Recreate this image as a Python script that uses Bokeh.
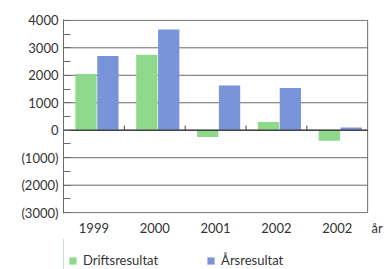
from bokeh.plotting import figure
from bokeh.layouts import column
from bokeh.models import (ColumnDataSource, FixedTicker, SingleIntervalTicker, Range1d,
                          Legend, LegendItem)
from bokeh.transform import dodge
from bokeh.embed import file_html
from bokeh.resources import INLINE

# ---- data ----
years = ["1999", "2000", "2001", "2002", "2002"]
driftsresultat = [2050, 2750, -250, 300, -380]
arsresultat = [2700, 3670, 1630, 1540, 100]
y_ticks = [-3000, -2000, -1000, 0, 1000, 2000, 3000, 4000]
y_tick_labels = ["(3000)", "(2000)", "(1000)", "0", "1000", "2000", "3000", "4000"]
x_unit_label = "år"
series_names = ["Driftsresultat", "Årsresultat"]

GREEN = "#8fd98c"
BLUE = "#7a94d9"
TEXT = "#333333"
GRID = "#6a6a6a"
FONT = "Lato"
FS = "13px"

n = len(years)
xs = [i + 0.5 for i in range(n)]
src = ColumnDataSource(dict(x=xs, drift=driftsresultat, ars=arsresultat))

p = figure(width=387, height=238, output_backend="svg", toolbar_location=None,
           x_range=Range1d(0, n + 0.31), y_range=Range1d(-3030, 4030),
           min_border_left=63, min_border_right=1, min_border_top=19, min_border_bottom=24)
p.background_fill_color = "white"
p.border_fill_color = "white"
p.outline_line_color = None

# plot box: grid lines across the categories and right border
p.xgrid.visible = False
p.ygrid.visible = False
p.segment(x0=[0] * len(y_ticks), x1=[n] * len(y_ticks), y0=y_ticks, y1=y_ticks,
          line_color=GRID, line_width=1)
p.segment(x0=[n], x1=[n], y0=[y_ticks[0]], y1=[y_ticks[-1]], line_color=GRID, line_width=1)

r1 = p.vbar(x=dodge("x", -0.13, range=p.x_range), top="drift", width=0.35, source=src,
            fill_color=GREEN, line_color=None)
r2 = p.vbar(x=dodge("x", 0.23, range=p.x_range), top="ars", width=0.35, source=src,
            fill_color=BLUE, line_color=None)

# zero line and category boundary marks
p.segment(x0=[0], x1=[n], y0=[0], y1=[0], line_color="#444444", line_width=1.5)
bounds = list(range(1, n))
p.segment(x0=bounds, y0=[0] * len(bounds), x1=bounds, y1=[170] * len(bounds),
          line_color="#444444", line_width=1)

# y axis
ya = p.yaxis[0]
ya.ticker = SingleIntervalTicker(interval=1000, num_minor_ticks=2)
ya.major_label_overrides = {t: l for t, l in zip(y_ticks, y_tick_labels)}
ya.major_tick_in = 0
ya.major_tick_out = 0
ya.minor_tick_in = 7
ya.minor_tick_out = 0
ya.minor_tick_line_color = GRID
ya.axis_line_color = GRID
ya.major_label_text_font = FONT
ya.major_label_text_font_size = FS
ya.major_label_text_color = TEXT
ya.major_label_standoff = 5

# x axis (category labels plus the unit label at the right)
xa = p.xaxis[0]
ticks_x = xs + [n + 0.156]
labels_x = years + [x_unit_label]
xa.ticker = FixedTicker(ticks=ticks_x)
xa.major_label_overrides = {x: y for x, y in zip(ticks_x, labels_x)}
xa.major_tick_in = 0
xa.major_tick_out = 0
xa.minor_tick_line_color = None
xa.axis_line_color = None
xa.major_label_text_font = FONT
xa.major_label_text_font_size = FS
xa.major_label_text_color = TEXT
xa.major_label_standoff = 6

# legend strip (its frame is aligned with the chart's frame by the column layout)
q = figure(width=387, height=31, output_backend="svg", toolbar_location=None,
           x_axis_type=None, y_axis_type=None,
           x_range=Range1d(0, 1), y_range=Range1d(0, 1),
           min_border_left=0, min_border_right=0, min_border_top=0, min_border_bottom=0)
q.grid.visible = False
q.outline_line_color = None
q.background_fill_color = "white"
q.border_fill_color = "white"
# legend proxies, kept outside the visible range
g1 = q.vbar(x=[-5], top=[1], width=0.1, fill_color=GREEN, line_color=None)
g2 = q.vbar(x=[-5], top=[1], width=0.1, fill_color=BLUE, line_color=None)
legend = Legend(items=[LegendItem(label=series_names[0], renderers=[g1]),
                       LegendItem(label=series_names[1], renderers=[g2])],
                orientation="horizontal", location=(5, 1))
legend.border_line_color = None
legend.background_fill_alpha = 0
legend.padding = 0
legend.margin = 0
legend.spacing = 48
legend.glyph_width = 9
legend.glyph_height = 9
legend.label_standoff = 6
legend.label_height = 14
legend.label_text_font = FONT
legend.label_text_font_size = FS
legend.label_text_color = TEXT
q.add_layout(legend, "center")

layout = column(p, q, spacing=0)
open("out.html", "w").write(file_html(layout, INLINE))
